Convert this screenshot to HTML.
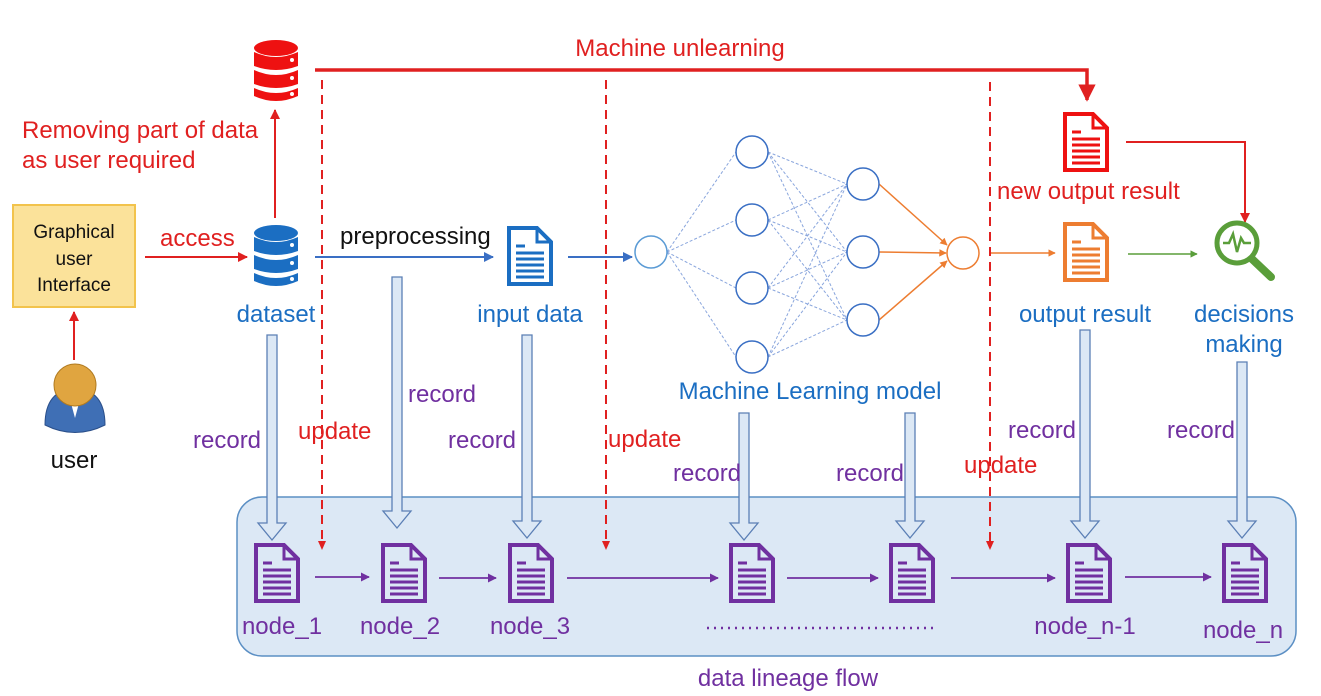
<!DOCTYPE html>
<html><head><meta charset="utf-8"><style>
html,body{margin:0;padding:0;background:#fff;width:1321px;height:696px;overflow:hidden}
svg{display:block}
text{font-family:"Liberation Sans",sans-serif}
</style></head><body>
<svg width="1321" height="696" viewBox="0 0 1321 696" xmlns="http://www.w3.org/2000/svg">
<defs>
<marker id="ar" viewBox="0 0 10 10" refX="9" refY="5" markerWidth="5" markerHeight="5" orient="auto"><path d="M0,0L10,5L0,10z" fill="#e02020"/></marker>
<marker id="ab" viewBox="0 0 10 10" refX="9" refY="5" markerWidth="5" markerHeight="5" orient="auto"><path d="M0,0L10,5L0,10z" fill="#3a6fc4"/></marker>
<marker id="ao" viewBox="0 0 10 10" refX="9" refY="5" markerWidth="5" markerHeight="5" orient="auto"><path d="M0,0L10,5L0,10z" fill="#ed7d31"/></marker>
<marker id="ag" viewBox="0 0 10 10" refX="9" refY="5" markerWidth="5" markerHeight="5" orient="auto"><path d="M0,0L10,5L0,10z" fill="#5a9e3a"/></marker>
<marker id="ap" viewBox="0 0 10 10" refX="9" refY="5" markerWidth="5" markerHeight="5" orient="auto"><path d="M0,0L10,5L0,10z" fill="#7030a0"/></marker>
<g id="doc">
<path d="M2,2 H30 L44,16 V58 H2 Z" fill="none" stroke="currentColor" stroke-width="4" stroke-linejoin="miter"/>
<path d="M30,2 V16 H44" fill="none" stroke="currentColor" stroke-width="3"/>
<g stroke="currentColor" stroke-width="3"><line x1="9" y1="20" x2="18" y2="20"/><line x1="9" y1="27" x2="37" y2="27"/><line x1="9" y1="33" x2="37" y2="33"/><line x1="9" y1="39" x2="37" y2="39"/><line x1="9" y1="45" x2="37" y2="45"/><line x1="9" y1="51" x2="37" y2="51"/></g>
</g>
<g id="db">
<ellipse cx="22" cy="8" rx="22" ry="8" fill="currentColor"/>
<path d="M0,12 Q22,22 44,12 V26 Q22,34 0,26Z" fill="currentColor"/>
<path d="M0,30 Q22,40 44,30 V44 Q22,52 0,44Z" fill="currentColor"/>
<path d="M0,48 Q22,58 44,48 V56 Q22,66 0,56Z" fill="currentColor"/>
<circle cx="38" cy="20" r="2" fill="#fff"/><circle cx="38" cy="38" r="2" fill="#fff"/><circle cx="38" cy="54" r="2" fill="#fff"/>
</g>
</defs>

<rect x="237" y="497" width="1059" height="159" rx="25" fill="#dce8f5" stroke="#5b8fc4" stroke-width="1.5"/>

<use href="#db" x="254" y="40" style="color:#ee1111"/>
<path d="M315,70 H1087 V100" fill="none" stroke="#e02020" stroke-width="3.5" marker-end="url(#ar)"/>
<text x="680" y="56" font-size="24" fill="#e02020" text-anchor="middle">Machine unlearning</text>
<text x="22" y="138" font-size="24" fill="#e02020">Removing part of data</text>
<text x="22" y="168" font-size="24" fill="#e02020">as user required</text>
<line x1="275" y1="218" x2="275" y2="110" stroke="#e02020" stroke-width="2" marker-end="url(#ar)"/>

<rect x="13" y="205" width="122" height="102" fill="#fbe29a" stroke="#f2c34c" stroke-width="2"/>
<text x="74" y="238" font-size="19" text-anchor="middle" fill="#111">Graphical</text>
<text x="74" y="265" font-size="19" text-anchor="middle" fill="#111">user</text>
<text x="74" y="291" font-size="19" text-anchor="middle" fill="#111">Interface</text>
<line x1="74" y1="360" x2="74" y2="312" stroke="#e02020" stroke-width="2" marker-end="url(#ar)"/>
<path d="M45,425 Q45,390 75,388 Q105,390 105,425 Q75,440 45,425Z" fill="#3f6fb5" stroke="#2a4f8a"/>
<path d="M68,392 L75,418 L82,392Z" fill="#fff"/>
<circle cx="75" cy="385" r="21" fill="#e0a540" stroke="#b07a20"/>
<text x="74" y="468" font-size="24" text-anchor="middle" fill="#111">user</text>

<text x="160" y="246" font-size="24" fill="#e02020">access</text>
<line x1="145" y1="257" x2="247" y2="257" stroke="#e02020" stroke-width="2" marker-end="url(#ar)"/>

<use href="#db" x="254" y="225" style="color:#1b6ec2"/>
<text x="276" y="322" font-size="24" fill="#1b6ec2" text-anchor="middle">dataset</text>
<text x="340" y="244" font-size="24" fill="#111">preprocessing</text>
<line x1="315" y1="257" x2="493" y2="257" stroke="#3a6fc4" stroke-width="2" marker-end="url(#ab)"/>
<use href="#doc" x="507" y="226" style="color:#1b6ec2"/>
<text x="530" y="322" font-size="24" fill="#1b6ec2" text-anchor="middle">input data</text>
<line x1="568" y1="257" x2="632" y2="257" stroke="#3a6fc4" stroke-width="2" marker-end="url(#ab)"/>

<g stroke="#8aa6dd" stroke-width="1" stroke-dasharray="3,2" fill="none">
<line x1="667" y1="252" x2="736" y2="152"/><line x1="667" y1="252" x2="736" y2="220"/><line x1="667" y1="252" x2="736" y2="288"/><line x1="667" y1="252" x2="736" y2="357"/>
<line x1="768" y1="152" x2="847" y2="184"/><line x1="768" y1="152" x2="847" y2="252"/><line x1="768" y1="152" x2="847" y2="320"/>
<line x1="768" y1="220" x2="847" y2="184"/><line x1="768" y1="220" x2="847" y2="252"/><line x1="768" y1="220" x2="847" y2="320"/>
<line x1="768" y1="288" x2="847" y2="184"/><line x1="768" y1="288" x2="847" y2="252"/><line x1="768" y1="288" x2="847" y2="320"/>
<line x1="768" y1="357" x2="847" y2="184"/><line x1="768" y1="357" x2="847" y2="252"/><line x1="768" y1="357" x2="847" y2="320"/>
</g>
<g stroke="#ed7d31" stroke-width="1.5"><line x1="879" y1="184" x2="947" y2="245" marker-end="url(#ao)"/><line x1="879" y1="252" x2="946" y2="253" marker-end="url(#ao)"/><line x1="879" y1="320" x2="947" y2="261" marker-end="url(#ao)"/></g>
<g fill="#fff" stroke="#3a6fc4" stroke-width="1.5">
<circle cx="651" cy="252" r="16" stroke="#5b9bd5"/>
<circle cx="752" cy="152" r="16"/><circle cx="752" cy="220" r="16"/><circle cx="752" cy="288" r="16"/><circle cx="752" cy="357" r="16"/>
<circle cx="863" cy="184" r="16"/><circle cx="863" cy="252" r="16"/><circle cx="863" cy="320" r="16"/>
<circle cx="963" cy="253" r="16" stroke="#ed7d31"/>
</g>
<text x="810" y="399" font-size="24" fill="#1b6ec2" text-anchor="middle">Machine Learning model</text>

<line x1="990" y1="253" x2="1055" y2="253" stroke="#ed7d31" stroke-width="1.5" marker-end="url(#ao)"/>
<use href="#doc" x="1063" y="222" style="color:#ed7d31"/>
<text x="1085" y="322" font-size="24" fill="#1b6ec2" text-anchor="middle">output result</text>
<use href="#doc" x="1063" y="112" style="color:#ee1111"/>
<text x="997" y="199" font-size="24" fill="#e02020">new output result</text>
<path d="M1126,142 H1245 V222" fill="none" stroke="#e02020" stroke-width="2" marker-end="url(#ar)"/>
<line x1="1128" y1="254" x2="1197" y2="254" stroke="#5a9e3a" stroke-width="1.5" marker-end="url(#ag)"/>
<circle cx="1237" cy="243" r="20" fill="none" stroke="#5a9e3a" stroke-width="5"/>
<line x1="1252" y1="259" x2="1271" y2="277" stroke="#5a9e3a" stroke-width="8" stroke-linecap="round"/>
<path d="M1223,243 H1229 L1233,234 L1237,252 L1241,238 L1244,243 H1251" fill="none" stroke="#5a9e3a" stroke-width="2.5"/>
<text x="1244" y="322" font-size="24" fill="#1b6ec2" text-anchor="middle">decisions</text>
<text x="1244" y="352" font-size="24" fill="#1b6ec2" text-anchor="middle">making</text>

<g stroke="#e02020" stroke-width="2" stroke-dasharray="9,6">
<line x1="322" y1="80" x2="322" y2="542"/><line x1="606" y1="80" x2="606" y2="542"/><line x1="990" y1="82" x2="990" y2="542"/>
</g>
<g fill="#e02020"><path d="M318,541 L326,541 L322,550Z"/><path d="M602,541 L610,541 L606,550Z"/><path d="M986,541 L994,541 L990,550Z"/></g>
<text x="298" y="439" font-size="24" fill="#e02020">update</text>
<text x="608" y="447" font-size="24" fill="#e02020">update</text>
<text x="964" y="473" font-size="24" fill="#e02020">update</text>

<g fill="#dce8f5" stroke="#5b7fb5" stroke-width="1.3">
<path d="M267,335 H277 V523 H286 L272,540 L258,523 H267Z"/>
<path d="M392,277 H402 V511 H411 L397,528 L383,511 H392Z"/>
<path d="M522,335 H532 V521 H541 L527,538 L513,521 H522Z"/>
<path d="M739,413 H749 V523 H758 L744,540 L730,523 H739Z"/>
<path d="M905,413 H915 V521 H924 L910,538 L896,521 H905Z"/>
<path d="M1080,330 H1090 V521 H1099 L1085,538 L1071,521 H1080Z"/>
<path d="M1237,362 H1247 V521 H1256 L1242,538 L1228,521 H1237Z"/>
</g>
<g font-size="24" fill="#7030a0">
<text x="193" y="448">record</text><text x="408" y="402">record</text><text x="448" y="448">record</text>
<text x="673" y="481">record</text><text x="836" y="481">record</text><text x="1008" y="438">record</text><text x="1167" y="438">record</text>
</g>

<g style="color:#7030a0">
<use href="#doc" x="254" y="543"/><use href="#doc" x="381" y="543"/><use href="#doc" x="508" y="543"/>
<use href="#doc" x="729" y="543"/><use href="#doc" x="889" y="543"/><use href="#doc" x="1066" y="543"/><use href="#doc" x="1222" y="543"/>
</g>
<g stroke="#7030a0" stroke-width="1.8">
<line x1="315" y1="577" x2="369" y2="577" marker-end="url(#ap)"/>
<line x1="439" y1="578" x2="496" y2="578" marker-end="url(#ap)"/>
<line x1="567" y1="578" x2="718" y2="578" marker-end="url(#ap)"/>
<line x1="787" y1="578" x2="878" y2="578" marker-end="url(#ap)"/>
<line x1="951" y1="578" x2="1055" y2="578" marker-end="url(#ap)"/>
<line x1="1125" y1="577" x2="1211" y2="577" marker-end="url(#ap)"/>
</g>
<line x1="707" y1="628" x2="935" y2="628" stroke="#7030a0" stroke-width="2.5" stroke-dasharray="2,5"/>
<g font-size="24" fill="#7030a0" text-anchor="middle">
<text x="282" y="634">node_1</text><text x="400" y="634">node_2</text><text x="530" y="634">node_3</text>
<text x="1085" y="634">node_n-1</text><text x="1243" y="638">node_n</text>
<text x="788" y="686">data lineage flow</text>
</g>
</svg>
</body></html>
